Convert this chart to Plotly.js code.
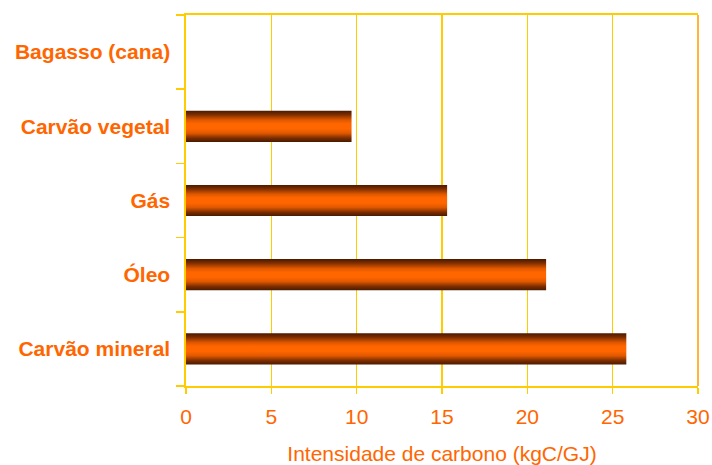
<!DOCTYPE html>
<html>
<head>
<meta charset="utf-8">
<script src="https://cdn.plot.ly/plotly-3.0.1.min.js"></script>
<style>
  html, body { margin: 0; padding: 0; background: #ffffff; }
  #chart { width: 712px; height: 465px; }
</style>
</head>
<body>
<div id="chart"></div>
<script>
// Carbon intensity by fuel (kgC/GJ)
const fuels = ['Carvão mineral', 'Óleo', 'Gás', 'Carvão vegetal', 'Bagasso (cana)'];
const intensity = [25.8, 21.1, 15.3, 9.7, 0];
const xTicks = [0, 5, 10, 15, 20, 25, 30];

const ORANGE = '#FF6600';
const YELLOW = '#FFCC00';
const FONT = '"Liberation Sans", Arial, sans-serif';

const trace = {
  type: 'bar',
  orientation: 'h',
  y: fuels,
  x: intensity,
  marker: { color: ORANGE, line: { width: 0 } },
  hoverinfo: 'x+y'
};

const layout = {
  width: 712,
  height: 465,
  margin: { l: 186, r: 14, t: 15, b: 79 },
  paper_bgcolor: '#ffffff',
  plot_bgcolor: '#ffffff',
  bargap: 0.58,
  showlegend: false,
  font: { family: FONT, color: ORANGE },
  xaxis: {
    range: [0, 30],
    tickvals: xTicks,
    ticktext: xTicks.map(String),
    showgrid: true,
    gridcolor: YELLOW,
    gridwidth: 1.6,
    zeroline: false,
    showline: true,
    linecolor: YELLOW,
    linewidth: 1.6,
    mirror: true,
    ticks: 'outside',
    ticklen: 6,
    tickcolor: YELLOW,
    tickwidth: 1.6,
    ticklabelstandoff: 5,
    tickfont: { family: FONT, size: 21, color: ORANGE },
    title: {
      text: 'Intensidade de carbono (kgC/GJ)',
      font: { family: FONT, size: 21, color: ORANGE },
      standoff: 19
    }
  },
  yaxis: {
    type: 'category',
    categoryorder: 'array',
    categoryarray: fuels,
    showgrid: false,
    zeroline: false,
    showline: true,
    linecolor: YELLOW,
    linewidth: 1.6,
    mirror: false,
    ticks: 'outside',
    tickson: 'boundaries',
    ticklen: 8,
    tickcolor: YELLOW,
    tickwidth: 1.6,
    ticklabelstandoff: 10,
    tickfont: { family: FONT, size: 21, color: ORANGE, weight: 'bold' }
  },
  shapes: [
    {
      type: 'line', xref: 'paper', yref: 'paper',
      x0: 1, x1: 1, y0: 0, y1: 1,
      line: { color: '#FFB43C', width: 2 }
    }
  ]
};

// Vertical dark-orange-dark shading applied to each bar
function shadeBars(gd) {
  const svg = gd.querySelector('svg.main-svg');
  if (!svg) return;
  const ns = 'http://www.w3.org/2000/svg';
  let defs = svg.querySelector('defs');
  if (!defs) { defs = document.createElementNS(ns, 'defs'); svg.insertBefore(defs, svg.firstChild); }
  if (!defs.querySelector('#barShade')) {
    const grad = document.createElementNS(ns, 'linearGradient');
    grad.setAttribute('id', 'barShade');
    grad.setAttribute('x1', '0'); grad.setAttribute('y1', '0');
    grad.setAttribute('x2', '0'); grad.setAttribute('y2', '1');
    const stops = [
      [0, '#4a1a00'], [0.12, '#7a2c00'], [0.3, '#e05800'], [0.42, '#ff6600'],
      [0.58, '#ff6600'], [0.72, '#e05800'], [0.88, '#7a2c00'], [1, '#4a1a00']
    ];
    stops.forEach(([o, c]) => {
      const s = document.createElementNS(ns, 'stop');
      s.setAttribute('offset', o);
      s.setAttribute('stop-color', c);
      grad.appendChild(s);
    });
    defs.appendChild(grad);
  }
  gd.querySelectorAll('.barlayer .point path').forEach(p => {
    p.style.fill = 'url(#barShade)';
  });
}

const gd = document.getElementById('chart');
Plotly.newPlot(gd, [trace], layout, { displayModeBar: false, staticPlot: true })
  .then(() => shadeBars(gd));
</script>
</body>
</html>
